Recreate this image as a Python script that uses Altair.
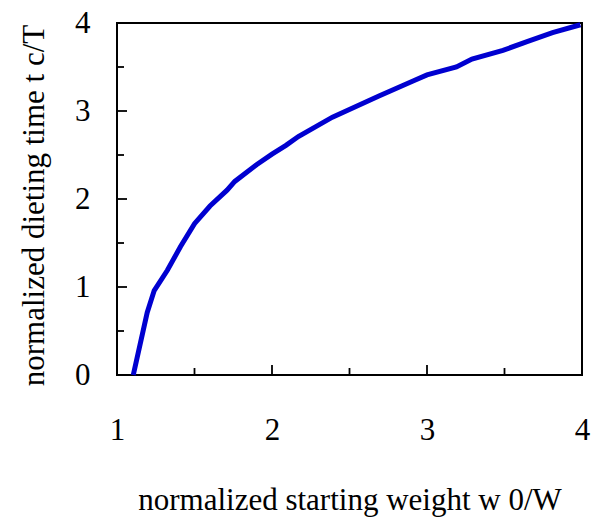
import altair as alt
import pandas as pd

# curve values
w0 = [1.105, 1.195, 1.24, 1.325, 1.41, 1.50, 1.60, 1.71, 1.76, 1.90, 2.00, 2.09,
      2.17, 2.28, 2.39, 2.69, 2.91, 3.00, 3.19, 3.29, 3.49, 3.65, 3.81, 3.99]
tc = [0.0, 0.71, 0.96, 1.19, 1.46, 1.72, 1.92, 2.10, 2.20, 2.39, 2.51, 2.61,
      2.71, 2.82, 2.93, 3.17, 3.34, 3.41, 3.50, 3.59, 3.69, 3.79, 3.89, 3.98]

x_major = [1, 2, 3, 4]
x_minor = [1.5, 2.5, 3.5]
y_major = [0, 1, 2, 3, 4]
y_minor = [0.5, 1.5, 2.5, 3.5]

W, H = 465, 352
FONT = "Liberation Serif"

df = pd.DataFrame({"w0": w0, "tc": tc})

xs = alt.Scale(domain=[1, 4], nice=False, zero=False)
ys = alt.Scale(domain=[0, 4], nice=False, zero=False)

line = alt.Chart(df).mark_line(color="#0000d0", strokeWidth=5).encode(
    x=alt.X("w0:Q", scale=xs, axis=alt.Axis(
        title="normalized starting weight w 0/W", values=x_major, format="d",
        ticks=False, domain=False, labelPadding=40, labelFontSize=31,
        titleFontSize=31, titlePadding=40, labelFont=FONT, titleFont=FONT,
        labelColor="black", titleColor="black", titleFontWeight="normal",
        grid=False, labelFlush=False)),
    y=alt.Y("tc:Q", scale=ys, axis=alt.Axis(
        title="normalized dieting time t c/T", values=y_major, format="d",
        ticks=False, domain=False, labelPadding=27, labelFontSize=31,
        titleFontSize=31, titlePadding=24, titleY=182, labelFont=FONT,
        titleFont=FONT, labelColor="black", titleColor="black",
        titleFontWeight="normal", grid=False, labelFlush=False)),
)

xt_major = alt.Chart(pd.DataFrame({"v": x_major[1:-1]})).mark_rule(
    color="black", strokeWidth=1.8).encode(
    x=alt.X("v:Q", scale=xs), y=alt.value(H), y2=alt.value(H - 10))
xt_minor = alt.Chart(pd.DataFrame({"v": x_minor})).mark_rule(
    color="black", strokeWidth=1.8).encode(
    x=alt.X("v:Q", scale=xs), y=alt.value(H), y2=alt.value(H - 7))
yt_major = alt.Chart(pd.DataFrame({"v": y_major[1:-1]})).mark_rule(
    color="black", strokeWidth=1.8).encode(
    y=alt.Y("v:Q", scale=ys), x=alt.value(0), x2=alt.value(10))
yt_minor = alt.Chart(pd.DataFrame({"v": y_minor})).mark_rule(
    color="black", strokeWidth=1.8).encode(
    y=alt.Y("v:Q", scale=ys), x=alt.value(0), x2=alt.value(7))

chart = alt.layer(xt_major, xt_minor, yt_major, yt_minor, line).properties(
    width=W, height=H,
    background="white",
    autosize=alt.AutoSizeParams(type="none"),
    padding={"left": 109, "top": 15, "right": 10, "bottom": 143},
).configure_view(stroke="black", strokeWidth=2)

chart.save("out.html", embed_options={"renderer": "svg", "actions": False})
